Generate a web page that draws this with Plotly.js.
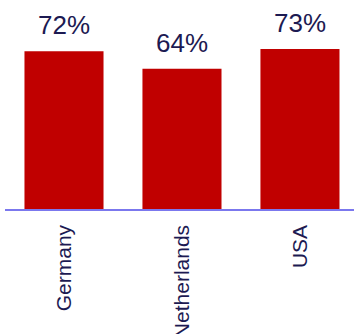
<!DOCTYPE html>
<html>
<head>
<meta charset="utf-8">
<script src="https://cdn.plot.ly/plotly-3.0.1.min.js"></script>
<style>html,body{margin:0;padding:0;background:#fff;}#chart{width:354px;height:334px;}</style>
</head>
<body>
<div id="chart"></div>
<script>
const categories = ["Germany", "Netherlands", "USA"];
const values = [72, 64, 73];
const labels = ["72%", "64%", "73%"];

const textColor = "#1c1a52";
const trace = {
  type: "bar",
  x: categories,
  y: values,
  marker: {color: "#c00000"},
  hoverinfo: "none"
};
const annotations = categories.map((c, i) => ({
  x: c, y: values[i], text: labels[i], showarrow: false,
  xref: "x", yref: "y", yanchor: "bottom", yshift: 9,
  font: {family: "Liberation Sans, Arial, sans-serif", size: 26, color: textColor}
}));
const layout = {
  width: 354, height: 334,
  margin: {l: 5, r: 0, t: 0, b: 125, pad: 0},
  paper_bgcolor: "#fff", plot_bgcolor: "#fff",
  showlegend: false,
  bargap: 0.33,
  xaxis: {
    type: "category", range: [-0.5, 2.458], fixedrange: true,
    showline: true, linecolor: "#7b78ee", linewidth: 1.5,
    showgrid: false, zeroline: false, ticks: "",
    tickangle: -90, ticklabelstandoff: 6,
    tickfont: {family: "Liberation Sans, Arial, sans-serif", size: 21, color: textColor}
  },
  yaxis: {
    range: [0, 95.4], visible: false, showgrid: false, zeroline: false, fixedrange: true
  },
  annotations: annotations
};
Plotly.newPlot("chart", [trace], layout, {displayModeBar: false, staticPlot: true});
</script>
</body>
</html>
